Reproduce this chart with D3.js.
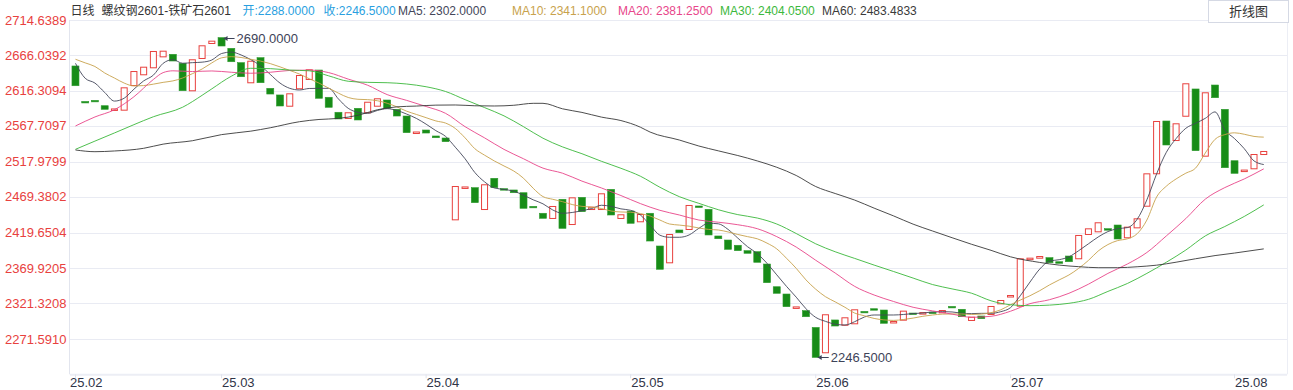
<!DOCTYPE html>
<html><head><meta charset="utf-8">
<script src="https://cdn.jsdelivr.net/npm/d3@7"></script>
<style>
body{margin:0;background:#fff;}
svg{display:block;font-family:"Liberation Sans",Arial,"Noto Sans CJK SC",sans-serif;}
</style>
</head><body>
<svg id="chart" width="1293" height="390"></svg>
<script>
// ---------------- data ----------------
const opens = [2650.7,2601.5,2603.0,2595.6,2591.0,2588.7,2622.9,2637.8,2647.5,2662.7,
2666.9,2654.4,2615.6,2660.4,2681.2,2690.0,2675.2,2655.3,2626.7,2662.2,
2619.7,2610.5,2594.2,2618.4,2631.3,2645.1,2607.3,2586.5,2577.2,2592.0,
2585.1,2594.2,2603.5,2590.6,2581.3,2559.2,2561.9,2553.6,2550.8,2436.6,
2483.0,2481.9,2450.9,2494.9,2480.5,2478.7,2474.9,2456.0,2446.4,2438.5,
2465.8,2430.1,2468.5,2450.9,2450.9,2479.6,2438.5,2449.5,2433.9,2446.4,
2401.0,2377.0,2423.2,2423.2,2456.5,2451.9,2414.9,2409.3,2402.0,2394.5,
2393.1,2376.0,2344.5,2334.4,2316.5,2311.3,2288.0,2252.2,2298.4,2290.4,
2292.4,2310.3,2314.0,2312.2,2293.8,2297.4,2308.0,2308.7,2309.3,2307.6,
2317.2,2313.2,2297.0,2303.9,2305.3,2320.1,2329.8,2316.8,2382.6,2383.4,
2384.8,2379.2,2387.1,2382.6,2416.3,2420.0,2425.0,2430.1,2411.7,2425.5,
2455.5,2500.5,2574.4,2546.6,2580.3,2618.8,2524.9,2624.3,2590.6,2519.3,
2505.8,2507.4,2527.2];
const closes = [2623.3,2601.0,2602.5,2590.6,2591.8,2621.1,2643.7,2649.7,2671.5,2671.9,
2657.6,2616.4,2660.0,2679.4,2685.8,2678.4,2656.6,2635.8,2658.0,2627.5,
2611.8,2595.2,2612.8,2638.2,2646.1,2605.9,2593.4,2577.2,2586.5,2575.8,
2601.1,2605.9,2592.0,2581.3,2558.2,2559.8,2557.7,2551.2,2545.7,2484.2,
2483.6,2461.1,2486.6,2481.9,2480.0,2474.9,2453.3,2455.0,2439.4,2456.5,
2425.5,2468.5,2448.6,2455.5,2474.1,2444.0,2445.0,2432.5,2445.4,2407.9,
2368.7,2417.6,2419.4,2457.9,2454.7,2416.3,2411.1,2396.4,2394.5,2390.9,
2378.4,2350.1,2335.4,2316.8,2317.2,2302.9,2246.5,2306.3,2290.0,2302.1,
2313.2,2309.6,2313.2,2293.8,2297.0,2311.3,2307.3,2309.3,2308.7,2312.2,
2316.5,2302.9,2302.9,2300.2,2317.8,2326.1,2333.0,2383.9,2384.8,2387.1,
2377.8,2377.0,2379.2,2416.3,2425.5,2433.9,2424.2,2410.7,2427.8,2439.4,
2501.8,2574.4,2541.1,2571.2,2626.7,2533.2,2614.2,2606.7,2509.6,2501.8,
2507.0,2528.6,2532.8];

const ma5 = [2654.4,2633.6,2627,2614,2602,2606,2618.5,2630,2638,2654.4,
2659.5,2654.5,2655.3,2656,2659,2668,2670,2666,2659.5,2651,
2639,2627,2619.7,2617.4,2619.5,2619.7,2619.7,2605,2592,2586.5,
2585,2589,2591.5,2589,2584,2578,2570,2561,2553,2538,
2522,2503,2490,2481.5,2479.5,2477,2471.5,2465,2459.5,2451,
2446.4,2447.5,2450,2453,2457.5,2456,2452.5,2450.5,2444,2430,
2416,2413.1,2413.1,2416.3,2425.5,2432.5,2431.8,2424,2412,2400,
2390.5,2377,2361,2345,2330,2314,2302,2296.5,2292.5,2291.4,
2296,2302.5,2305.3,2305.3,2305.3,2306,2307.3,2308,2309.5,2310,
2309.5,2307.8,2307.2,2307.6,2307.6,2309.9,2315.5,2332,2351,2369,
2380,2382,2386,2394.5,2404,2413.5,2421,2425,2426.5,2438,
2465,2501,2531,2550,2564.3,2571.2,2578.1,2587,2562,2550,
2536,2519,2514];
const ma10 = [2660,2655,2650,2641,2634,2627,2623,2623.5,2625.5,2628,
2630,2634,2640,2646.5,2655,2662,2663.6,2662.5,2660,2657.5,
2654,2649.5,2644.5,2639.5,2633,2627,2620,2613,2607,2604.5,
2604,2602.5,2599,2594,2588,2583.5,2579,2574.5,2571.5,2564,
2551,2536,2527,2519,2512,2505,2495,2481,2469.5,2465.8,
2462.5,2458.5,2456,2455,2453,2449.5,2448.2,2447.8,2446,2442.5,
2437,2431.5,2430,2428.5,2426,2424,2423.2,2420.5,2417,2414,
2411,2405,2397,2384,2370,2354,2341.1,2330.7,2323.5,2316,
2308,2304.2,2300.5,2298.5,2297.8,2299,2301,2303.5,2305.3,2306.5,
2306.7,2306.7,2306,2306.5,2308.5,2312.5,2319.5,2326,2332,2339,
2347,2354,2360.8,2370,2381,2394,2403,2408.5,2411,2418,
2437,2469,2484,2494,2502,2509,2530,2549,2555.5,2558,
2556,2553,2552];
const ma20 = [[0,2567.5],[2,2580],[4,2590],[6,2608],[8,2632],[9,2641.5],[10,2644],[12,2643],[14,2643.8],[16,2642],
[18,2640.6],[20,2642],[22,2644.5],[24,2645],[26,2641.5],[28,2632.5],[30,2624],[32,2611],[34,2603],[36,2594.5],
[38,2585],[40,2566.5],[42,2551],[44,2535],[46,2522],[48,2509],[50,2502],[52,2491],[54,2481.5],[56,2471],
[58,2459.8],[60,2450.5],[62,2444],[64,2437],[66,2434],[68,2430.5],[70,2425],[72,2414],[74,2399.5],[76,2381.25],
[78,2363.5],[80,2345],[82,2333],[84,2324],[86,2316],[88,2311],[90,2306.5],[92,2302.1],[94,2303.5],[96,2310.5],
[98,2321],[100,2326.5],[102,2335.4],[104,2348],[106,2363],[108,2376],[110,2392],[112,2415],[114,2439],[116,2466],
[118,2482],[120,2494],[122,2508]];
const ma30 = [[0,2535.1],[2,2546.5],[4,2557.8],[6,2569.3],[8,2580.3],[11,2593.5],[13,2610],[14,2619],[16,2636.5],[18,2647.5],
[20,2647],[22,2645],[24,2644],[26,2637],[28,2629.5],[30,2628],[32,2627.5],[34,2625.7],[36,2621.9],[38,2615.3],
[40,2604],[42,2593],[44,2581.5],[46,2566.5],[48,2550.5],[50,2538.5],[52,2529],[54,2518.5],[56,2508.8],[58,2497.8],
[60,2482.5],[62,2469.4],[64,2460.2],[66,2451.3],[68,2444.5],[70,2439.8],[72,2431.5],[74,2418.3],[76,2404.05],[78,2393],
[80,2383.8],[82,2374.5],[84,2365.6],[86,2356.5],[88,2347.5],[90,2341.5],[92,2335.5],[94,2325],[96,2319.5],[98,2318.2],
[100,2319],[102,2321.5],[104,2327],[106,2338],[108,2349],[110,2363],[112,2378.5],[114,2395.4],[116,2415],[118,2428],
[120,2442],[122,2458]];
const ma60 = [[0,2534.2],[2,2531.8],[4,2532.8],[7,2536.5],[9,2542.3],[12,2547],[15,2555.5],[18,2560.3],[20,2565],[23,2573.4],
[25,2576.5],[27,2578],[29,2582.3],[31,2590],[33,2594],[35,2595.1],[37,2596.4],[39,2596.6],[41,2595.5],[43,2595.2],
[45,2596.2],[47,2598.9],[48,2598.9],[50,2591.3],[52,2586.3],[54,2579.8],[56,2575],[58,2565.8],[59,2559],[62,2548],
[64,2539.7],[66,2533],[68,2526.5],[70,2519],[72,2510.2],[74,2498.8],[76,2483.48],[78,2473.8],[80,2464.7],[82,2453.5],
[84,2442.7],[86,2431.3],[88,2421.8],[90,2412.5],[92,2403.4],[94,2395],[96,2386],[99,2378.2],[101,2374.5],[103,2372.3],
[105,2370.9],[107,2370.9],[109,2372.2],[111,2374.4],[113,2378.5],[115,2383.3],[117,2387.7],[119,2391.2],[122,2397]];

const yTicks = [2714.6389,2666.0392,2616.3094,2567.7097,2517.9799,2469.3802,2419.6504,2369.9205,2321.3208,2271.5910];
const xTickIdx = [0,15,36,57,76,96,119];
const xTickLabels = ["25.02","25.03","25.04","25.05","25.06","25.07","25.08"];

const titleText = "日线";
const pairName = "螺纹钢2601-铁矿石2601";
const openVal = 2288.0, closeVal = 2246.5;
const maNames = ["MA5","MA10","MA20","MA30","MA60"];
const maHeaderVals = [2302.0,2341.1,2381.25,2404.05,2483.4833];
const maColors = ["#44475a","#c8a24c","#e8468a","#3cb83c","#3a3a3a"];

// ---------------- layout ----------------
const svg = d3.select("#chart");
const W = 1293, H = 390;
const pL = 70, pR = 1287, pT = 19.9, pB = 374.3;
svg.append("rect").attr("width",W).attr("height",H).attr("fill","#fff");

const n = opens.length;
const xb = d3.scaleBand().domain(d3.range(n)).range([70.6, 70.6 + 9.74*n]).paddingInner(0.28).paddingOuter(0.14);
const xc = i => xb(i) + xb.bandwidth()/2;
const y = d3.scaleLinear().domain([2223.03, 2714.62]).range([pB, pT]);

// grid
svg.append("g").selectAll("line").data(yTicks).join("line")
  .attr("x1",pL).attr("x2",pR)
  .attr("y1",d=>Math.round(y(d))+0.5).attr("y2",d=>Math.round(y(d))+0.5)
  .attr("stroke","#e9ebf3").attr("stroke-width",1);

svg.append("line").attr("x1",69.5).attr("x2",69.5).attr("y1",pT).attr("y2",pB).attr("stroke","#e2e5ee");
svg.append("line").attr("x1",pR+0.5).attr("x2",pR+0.5).attr("y1",pT).attr("y2",pB).attr("stroke","#eceef5");

// y axis labels
const yAxis = d3.axisLeft(y).tickValues(yTicks).tickSize(0).tickPadding(0).tickFormat(d=>d.toFixed(4));
const gy = svg.append("g").attr("transform","translate(66.5,0)").call(yAxis);
gy.select(".domain").remove();
gy.selectAll("text").attr("fill","#e8413e").attr("font-size",13).attr("font-family","'Liberation Sans',Arial,sans-serif");

// x axis
const xAxis = d3.axisBottom(xb).tickValues(xTickIdx).tickSize(4).tickFormat((d,i)=>xTickLabels[i]);
const gx = svg.append("g").attr("transform",`translate(0,${pB})`).call(xAxis);
gx.select(".domain").attr("d",`M${pL},0.5H${pR}`).attr("stroke","#eceef5").attr("stroke-width",2);
gx.selectAll(".tick line").attr("stroke","#e0e3ec");
gx.selectAll(".tick text").attr("fill","#2f3447").attr("font-size",13)
  .attr("text-anchor","start").attr("dy",0).attr("y",13)
  .attr("x",(d)=> d===0 ? pL - xc(0) : 0.5)
  .attr("font-family","'Liberation Sans',Arial,sans-serif");

// candles
const upC = "#e8413e", downC = "#178c17";
const cw = xb.bandwidth();
const cg = svg.append("g");
cg.selectAll("rect").data(d3.range(n)).join("rect")
  .attr("x",i=> closes[i]>=opens[i] ? xb(i)+0.5 : xb(i))
  .attr("width",i=> closes[i]>=opens[i] ? cw-1 : cw)
  .attr("y",i=> y(Math.max(opens[i],closes[i])) + (closes[i]>=opens[i]?0.5:0))
  .attr("height",i=> Math.max(1.5, Math.abs(y(opens[i])-y(closes[i])) - (closes[i]>=opens[i]?1:0)))
  .attr("fill",i=> closes[i]>=opens[i] ? "#fff" : downC)
  .attr("stroke",i=> closes[i]>=opens[i] ? upC : "#2e9b2e")
  .attr("stroke-width",i=> closes[i]>=opens[i] ? 1 : 0.6);

// MA lines
const line = d3.line().x(d=>xc(d[0])).y(d=>y(d[1])).curve(d3.curveMonotoneX);
const maSeries = [ma5.map((v,i)=>[i,v]), ma10.map((v,i)=>[i,v]), ma20, ma30, ma60];
maSeries.forEach((s,k)=>{
  svg.append("path").attr("d",line(s)).attr("fill","none")
    .attr("stroke",maColors[k]).attr("stroke-width",1).attr("opacity",0.9);
});

// max / min annotations
let maxI=0,minI=0;
for(let i=0;i<n;i++){
  if(Math.max(opens[i],closes[i])>Math.max(opens[maxI],closes[maxI])) maxI=i;
  if(Math.min(opens[i],closes[i])<Math.min(opens[minI],closes[minI])) minI=i;
}
function annotate(i,val){
  const ax = xc(i)+2, ay = Math.round(y(val))+0.5;
  const g = svg.append("g");
  g.append("line").attr("x1",ax).attr("x2",ax+11).attr("y1",ay).attr("y2",ay).attr("stroke","#3d4358");
  g.append("path").attr("d",`M${ax},${ay}l4,-2.5v5z`).attr("fill","#3d4358");
  g.append("text").attr("x",ax+13).attr("y",ay+4.5).attr("font-size",13)
    .attr("fill","#3d4358").text(val.toFixed(4));
}
annotate(maxI, Math.max(opens[maxI],closes[maxI]));
annotate(minI, Math.min(opens[minI],closes[minI]));

// header
const hy = 15;
const hdr = svg.append("g").attr("font-size",12);
hdr.append("text").attr("x",70.5).attr("y",hy).attr("fill","#333").text(titleText);
hdr.append("text").attr("x",101.5).attr("y",hy).attr("fill","#333").text(pairName);
hdr.append("text").attr("x",242.5).attr("y",hy).attr("fill","#2a9fe0").text("开:"+openVal.toFixed(4));
hdr.append("text").attr("x",323.5).attr("y",hy).attr("fill","#2a9fe0").text("收:"+closeVal.toFixed(4));
const maX = [398,512,618,720,822];
maNames.forEach((nm,k)=>{
  hdr.append("text").attr("x",maX[k]).attr("y",hy).attr("fill",maColors[k])
    .text(nm+": "+maHeaderVals[k].toFixed(4));
});
svg.append("rect").attr("x",1208.5).attr("y",0.5).attr("width",80).attr("height",22)
  .attr("fill","#fff").attr("stroke","#d5d9e4");
svg.append("text").attr("x",1248.5).attr("y",16).attr("text-anchor","middle")
  .attr("font-size",13).attr("fill","#333").text("折线图");
</script>
</body></html>
